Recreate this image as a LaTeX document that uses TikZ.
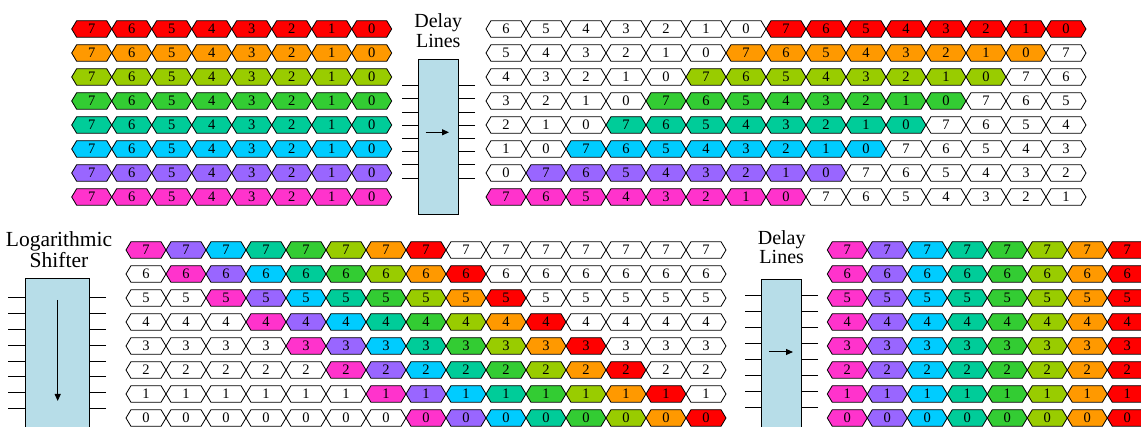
\documentclass[tikz,border=0pt]{standalone}
\usepackage{fontspec}
\setmainfont{Liberation Serif}
\usetikzlibrary{shapes.symbols,arrows.meta,positioning}
\definecolor{lane0}{RGB}{255,0,0}
\definecolor{lane1}{RGB}{255,153,0}
\definecolor{lane2}{RGB}{153,204,0}
\definecolor{lane3}{RGB}{51,204,51}
\definecolor{lane4}{RGB}{0,204,153}
\definecolor{lane5}{RGB}{0,204,255}
\definecolor{lane6}{RGB}{153,102,255}
\definecolor{lane7}{RGB}{255,51,204}
\definecolor{lane8}{RGB}{255,255,255}
\definecolor{unitfill}{RGB}{183,221,232}

\begin{document}
\begin{tikzpicture}[x=1pt, y=-1pt,
    cell/.style={signal, signal to=east and west, signal pointer angle=118,
                 draw=black, line width=0.8pt, minimum width=40pt, minimum height=16.5pt,
                 inner sep=0pt, outer sep=0pt, font=\rmfamily\fontsize{14.5}{14.5}\selectfont},
    unit/.style={rectangle, draw=black, line width=0.8pt, fill=unitfill,
                 inner sep=0pt, outer sep=0pt},
    heading/.style={align=center, inner sep=0pt, font=\rmfamily\fontsize{20}{19.5}\selectfont},
    wire/.style={line width=1pt},
    arr/.style={-{Triangle[length=7pt,width=6pt]}, line width=1pt}
]
\useasboundingbox (0,0) rectangle (1141,427);

% input words, one lane per row
\foreach \k in {0,...,7}
  \foreach \j in {0,...,7} {
    \pgfmathtruncatemacro\v{7-\j}
    \node[cell, fill=lane\k] (in-\k-\j) at (91.7+40*\j, 29+24*\k) {\v};
  }

% after the delay lines
\foreach \k in {0,...,7}
  \foreach \j in {0,...,14} {
    \pgfmathtruncatemacro\v{mod(22-\k-\j,8)}
    \pgfmathtruncatemacro\c{and(\j>(6-\k), \j<(15-\k)) ? \k : 8}
    \node[cell, fill=lane\c] (dl-\k-\j) at (506+40*\j, 29+24*\k) {\v};
  }

% after the logarithmic shifter
\foreach \k in {0,...,7}
  \foreach \j in {0,...,14} {
    \pgfmathtruncatemacro\v{7-\k}
    \pgfmathtruncatemacro\c{and(\j>(\k-1), \j<(\k+8)) ? 7-\j+\k : 8}
    \node[cell, fill=lane\c] (sh-\k-\j) at (146+40*\j, 250+24*\k) {\v};
  }

% output words
\foreach \k in {0,...,7}
  \foreach \j in {0,...,7} {
    \pgfmathtruncatemacro\v{7-\k}
    \pgfmathtruncatemacro\c{7-\j}
    \node[cell, fill=lane\c] (out-\k-\j) at (847.3+40*\j, 250+24*\k) {\v};
  }

% first delay lines
\node[unit, minimum width=40pt, minimum height=154.7pt] (dl1) at (438.3,136.65) {};
\node[heading] (dl1-t) at (438.3,30.7) {Delay\\Lines};
\foreach \i in {0,...,7} {
  \coordinate (dl1-w\i) at (402, 85.8+13.2*\i);
  \coordinate (dl1-e\i) at (475, 85.8+13.2*\i);
  \draw[wire] (dl1-w\i) -- (dl1-w\i -| dl1.west);
  \draw[wire] (dl1-e\i) -- (dl1-e\i -| dl1.east);
}
\coordinate (dl1-a) at (425.7,132.3);
\coordinate (dl1-b) at (449,132.3);
\draw[arr] (dl1-a) -- (dl1-b);

% logarithmic shifter
\node[unit, minimum width=64.3pt, minimum height=170pt] (ls) at (57.15,363) {};
\node[heading, font=\rmfamily\fontsize{21.5}{21}\selectfont] (ls-t) at (59,249.2) {Logarithmic\\Shifter};
\foreach \i in {0,...,7} {
  \coordinate (ls-w\i) at (8, 298+15.8*\i);
  \coordinate (ls-e\i) at (106, 298+15.8*\i);
  \draw[wire] (ls-w\i) -- (ls-w\i -| ls.west);
  \draw[wire] (ls-e\i) -- (ls-e\i -| ls.east);
}
\coordinate (ls-a) at (57.7,300);
\coordinate (ls-b) at (57.7,401);
\draw[arr] (ls-a) -- (ls-b);

% second delay lines
\node[unit, minimum width=40pt, minimum height=160pt] (dl2) at (781.7,359.3) {};
\node[heading] (dl2-t) at (781.7,247.2) {Delay\\Lines};
\foreach \i in {0,...,7} {
  \coordinate (dl2-w\i) at (745, 296+16*\i);
  \coordinate (dl2-e\i) at (818, 296+16*\i);
  \draw[wire] (dl2-w\i) -- (dl2-w\i -| dl2.west);
  \draw[wire] (dl2-e\i) -- (dl2-e\i -| dl2.east);
}
\coordinate (dl2-a) at (769,352);
\coordinate (dl2-b) at (793,352);
\draw[arr] (dl2-a) -- (dl2-b);
\end{tikzpicture}
\end{document}
